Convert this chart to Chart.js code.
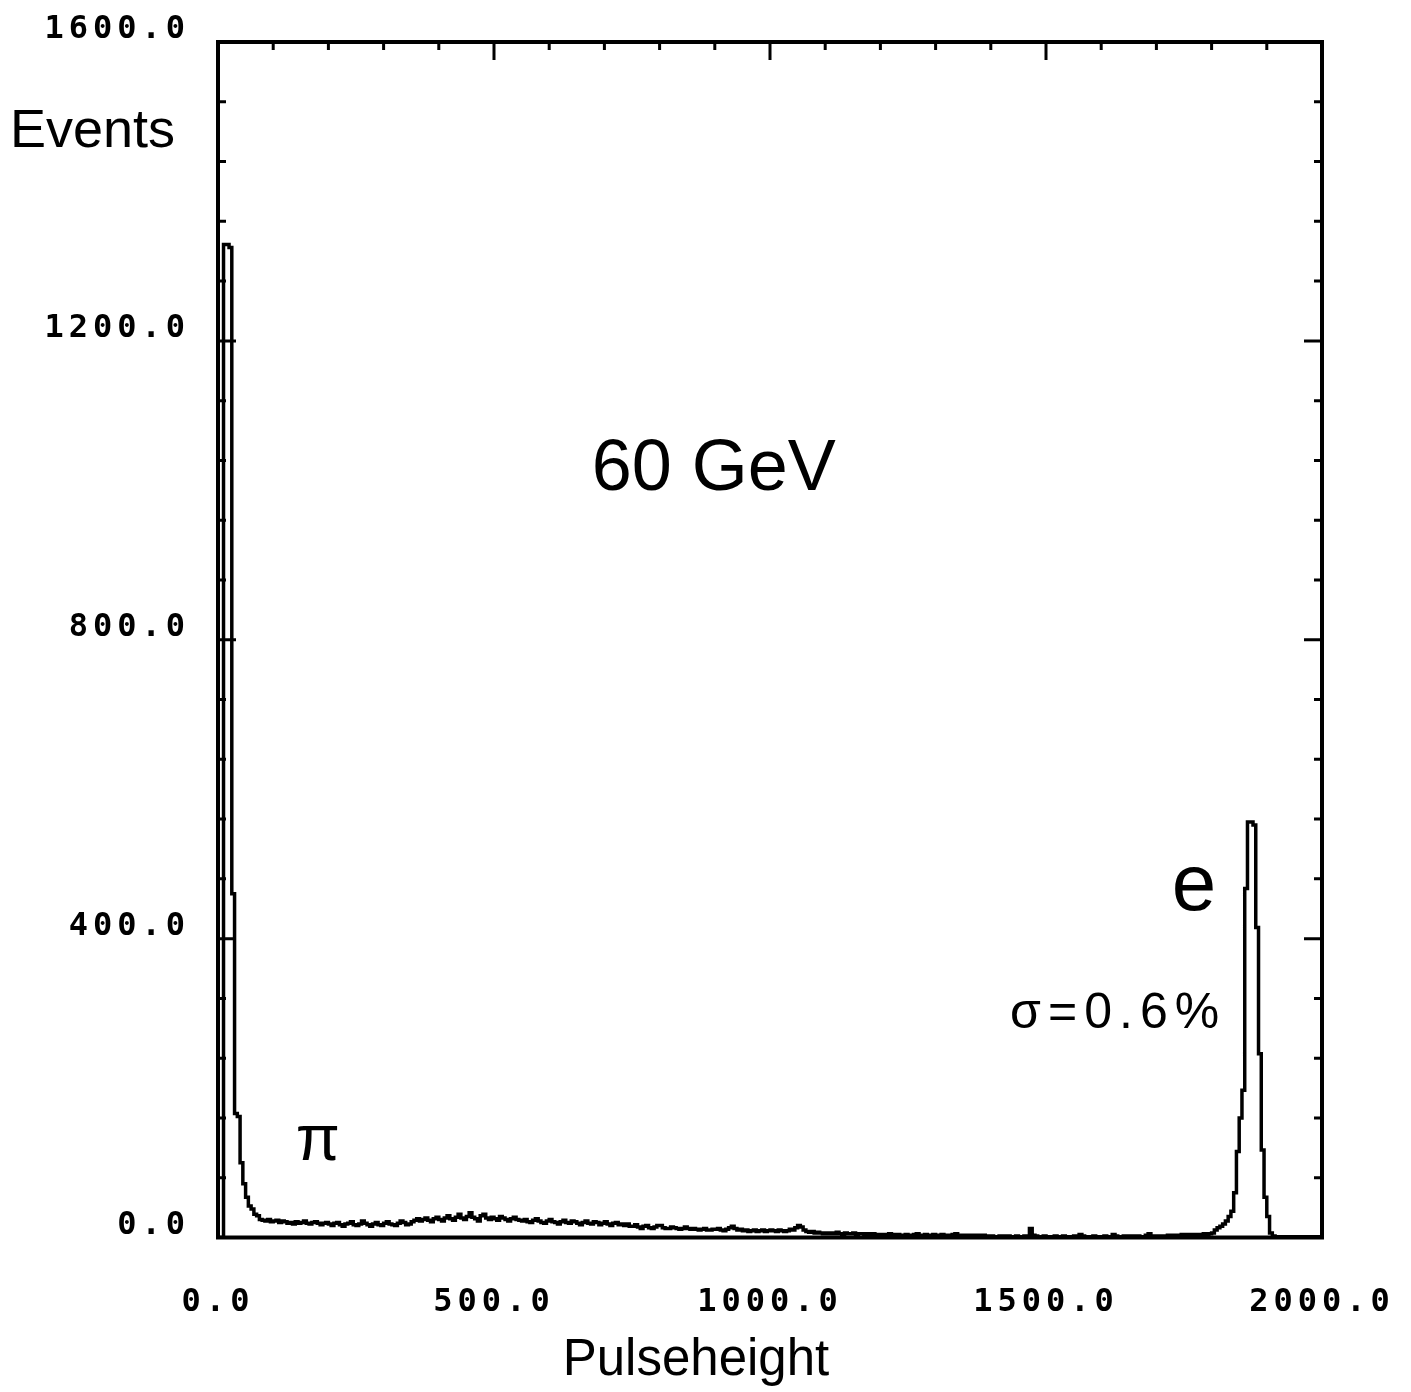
<!DOCTYPE html>
<html>
<head>
<meta charset="utf-8">
<style>
  html, body { margin: 0; padding: 0; background: #fff; }
  #wrap { width: 1411px; height: 1392px; }
</style>
<script src="https://cdn.jsdelivr.net/npm/chart.js@4/dist/chart.umd.min.js"></script>
</head>
<body>
<div id="wrap"><canvas id="c" width="1411" height="1392"></canvas></div>
<script>
// ---- data (histogram of pulseheight, bin width 5 units, starting at 0) ----
const binWidth = 5;
const xMin = 0, xMax = 2000;
const yMin = 0, yMax = 1600;
const xTickStep = 500, yTickStep = 400;
const xMinorStep = 100, yMinorStep = 80;
const counts = [
  // 0 - 100
  0,0,1329,1329,1325,460,166,162,100,72,54,42,38,31,29,24,23,22,24,21,
  // 100 - 200
  22,23,20,22,21,19,20,18,21,19,20,22,19,18,20,21,19,17,19,20,
  // 200 - 300
  18,16,19,20,17,15,18,19,21,17,16,18,22,19,17,15,18,20,17,16,
  // 300 - 400
  19,21,18,17,16,19,22,20,17,18,21,23,25,22,24,26,23,21,25,27,
  // 400 - 500
  24,22,26,29,25,23,27,31,26,24,28,33,27,25,22,29,31,26,24,27,
  // 500 - 600
  25,23,28,26,24,22,25,27,24,23,22,24,21,20,23,25,22,20,19,22,
  // 600 - 700
  24,21,20,18,21,23,20,19,22,21,19,17,20,22,19,18,21,20,17,19,
  // 700 - 800
  21,18,16,19,20,17,18,16,18,15,15,17,14,12,15,16,13,12,14,16,
  // 800 - 900
  16,13,12,12,14,13,12,11,12,14,12,11,12,11,10,11,12,10,10,11,
  // 900 - 1000
  11,12,10,9,11,13,15,12,10,11,9,10,8,9,10,8,9,10,8,9,
  // 1000 - 1100
  10,9,8,10,9,8,9,11,10,13,16,14,10,8,7,8,6,7,6,5,
  // 1100 - 1200
  6,5,6,5,7,5,4,6,5,5,6,4,5,5,4,5,4,5,4,4,
  // 1200 - 1300
  4,3,4,5,3,4,4,3,3,4,3,3,4,5,3,3,4,3,3,4,
  // 1300 - 1400
  3,3,4,3,2,3,4,5,3,3,2,3,3,2,3,3,2,3,2,2,
  // 1400 - 1500
  2,1,1,2,1,2,2,1,1,2,1,1,2,1,12,3,2,1,1,2,
  // 1500 - 1600
  1,1,1,2,1,1,2,1,1,1,2,1,4,2,1,1,1,2,1,1,
  // 1600 - 1700
  1,2,1,1,4,2,1,1,2,1,2,1,2,2,1,1,3,5,2,1,
  // 1700 - 1800
  2,1,2,2,3,2,3,3,3,4,3,4,4,3,4,3,4,5,4,5,
  // 1800 - 1900
  6,10,13,15,18,22,28,35,60,115,160,197,467,556,556,552,415,246,117,54,
  // 1900 - 2000
  28,6,2,1,1,1,1,1,1,1,1,1,1,1,1,1,1,1,1,0
];

// annotations (text, anchored in data coordinates where inside the plot)
const labels = [
  { text: '60 GeV', x: 677, y: 1000, size: 72, family: 'Liberation Sans', spacing: 0 },
  { text: 'π', x: 141, y: 104, size: 64, family: 'Liberation Sans', spacing: 0 },
  { text: 'e', x: 1728, y: 438, size: 80, family: 'Liberation Sans', spacing: 0 },
  { text: 'σ=0.6%', x: 1435, y: 280, size: 50, family: 'Liberation Sans', spacing: 7 }
];

const points = counts.map((c, i) => ({ x: xMin + i * binWidth, y: c }));
points.push({ x: xMax, y: counts[counts.length - 1] });

const tickFont = { family: 'DejaVu Sans Mono', size: 32, weight: 'bold' };
const fmt = v => Number(v).toFixed(1);

const spacingPlugin = {
  id: 'spacing',
  beforeUpdate(chart) { chart.ctx.letterSpacing = '5px'; },
  beforeDraw(chart) { chart.ctx.letterSpacing = '5px'; }
};

const framePlugin = {
  id: 'frame',
  afterDraw(chart) {
    const ctx = chart.ctx;
    const a = chart.chartArea;
    const xs = chart.scales.x, ys = chart.scales.y;
    ctx.save();
    ctx.letterSpacing = '0px';
    ctx.strokeStyle = '#000';
    ctx.lineWidth = 4;
    ctx.strokeRect(a.left, a.top, a.right - a.left, a.bottom - a.top);
    ctx.lineWidth = 3;
    ctx.beginPath();
    for (let v = xMin; v <= xMax; v += xMinorStep) {
      const px = xs.getPixelForValue(v);
      const len = (v % xTickStep === 0) ? 18 : 8;
      ctx.moveTo(px, a.top); ctx.lineTo(px, a.top + len);
    }
    for (let v = yMin; v <= yMax; v += yMinorStep) {
      const py = ys.getPixelForValue(v);
      const len = (v % yTickStep === 0) ? 18 : 8;
      ctx.moveTo(a.left, py); ctx.lineTo(a.left + len, py);
      ctx.moveTo(a.right, py); ctx.lineTo(a.right - len, py);
    }
    ctx.stroke();

    ctx.fillStyle = '#000';
    ctx.textAlign = 'left';
    ctx.textBaseline = 'alphabetic';
    // axis titles
    ctx.font = '54px "Liberation Sans"';
    ctx.fillText('Events', 10, 147);
    ctx.font = '51px "Liberation Sans"';
    ctx.textAlign = 'center';
    ctx.fillText('Pulseheight', 696, 1375);
    ctx.textAlign = 'left';
    for (const l of labels) {
      ctx.letterSpacing = l.spacing + 'px';
      ctx.font = l.size + 'px "' + l.family + '"';
      ctx.fillText(l.text, xs.getPixelForValue(l.x), ys.getPixelForValue(l.y));
    }
    ctx.restore();
  }
};

new Chart(document.getElementById('c'), {
  type: 'line',
  data: {
    datasets: [{
      data: points,
      stepped: 'before',
      borderColor: '#000',
      borderWidth: 3.5,
      pointRadius: 0,
      fill: false,
      tension: 0
    }]
  },
  options: {
    responsive: false,
    animation: false,
    events: [],
    layout: { padding: { left: 0, right: 89, top: 42, bottom: 0 } },
    plugins: { legend: { display: false }, tooltip: { enabled: false }, title: { display: false } },
    scales: {
      x: {
        type: 'linear', min: xMin, max: xMax,
        grid: { display: false, drawTicks: false },
        border: { display: false },
        ticks: { stepSize: xTickStep, callback: fmt, autoSkip: false, maxRotation: 0, padding: 46, font: tickFont, color: '#000' },
        afterFit(s) { s.height = 1392 - 1237.5; s.paddingLeft = 0; s.paddingRight = 0; }
      },
      y: {
        type: 'linear', min: yMin, max: yMax,
        grid: { display: false, drawTicks: false },
        border: { display: false },
        ticks: { stepSize: yTickStep, callback: fmt, padding: 28, labelOffset: -12, font: tickFont, color: '#000' },
        afterFit(s) { s.width = 218; s.paddingTop = 0; s.paddingBottom = 0; }
      }
    }
  },
  plugins: [spacingPlugin, framePlugin]
});
</script>
</body>
</html>
